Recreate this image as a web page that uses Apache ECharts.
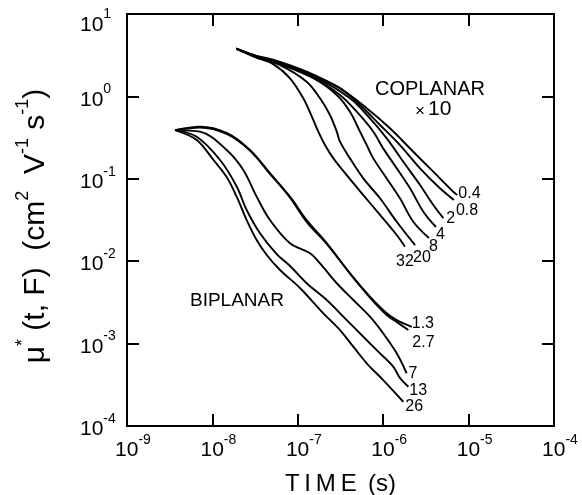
<!DOCTYPE html>
<html>
<head>
<meta charset="utf-8">
<script src="https://cdn.jsdelivr.net/npm/echarts@6/dist/echarts.min.js"></script>
<style>
  html, body { margin: 0; padding: 0; background: #fff; }
  #main { width: 582px; height: 495px; }
</style>
</head>
<body>
<div id="main"></div>
<script>
// coplanar curves (values already x10), [time s, mu*]
const cop04 = [[1.9e-8,3.8],[3.16e-8,3.15],[5.13e-8,2.8],[1.27e-7,2.0],[3.12e-7,1.25],[6.41e-7,0.718],[1.2e-6,0.41],[2.25e-6,0.213],[3.86e-6,0.122],[6.62e-6,0.0697],[7.38e-6,0.0635]];
const cop08 = [[1.9e-8,3.8],[3.16e-8,3.12],[6.19e-8,2.55],[1.51e-7,1.8],[3.12e-7,1.26],[5.35e-7,0.787],[9.18e-7,0.45],[1.57e-6,0.257],[2.7e-6,0.134],[4.62e-6,0.0767],[6.74e-6,0.0553]];
const cop2  = [[1.9e-8,3.8],[3.16e-8,3.1],[6.19e-8,2.52],[1.51e-7,1.77],[4.08e-7,0.948],[7.0e-7,0.542],[1.1e-6,0.31],[1.72e-6,0.161],[2.7e-6,0.0841],[3.86e-6,0.0481],[5.06e-6,0.0334]];
const cop4  = [[1.9e-8,3.8],[3.16e-8,3.1],[6.19e-8,2.5],[1.51e-7,1.72],[3.12e-7,1.04],[4.9e-7,0.652],[7.66e-7,0.373],[1.0e-6,0.234],[1.44e-6,0.134],[2.06e-6,0.0767],[2.95e-6,0.0399],[4.15e-6,0.026]];
const cop8  = [[1.9e-8,3.8],[3.16e-8,3.08],[6.19e-8,2.47],[1.52e-7,1.66],[2.86e-7,1.04],[4.08e-7,0.652],[5.35e-7,0.373],[6.41e-7,0.257],[7.66e-7,0.177],[1.1e-6,0.101],[1.57e-6,0.058],[2.25e-6,0.0301],[3.43e-6,0.0191]];
const cop20 = [[1.9e-8,3.8],[3.16e-8,3.05],[6.19e-8,2.4],[1.27e-7,1.51],[1.82e-7,0.948],[2.38e-7,0.594],[2.86e-7,0.373],[3.12e-7,0.282],[4.08e-7,0.177],[5.85e-7,0.101],[9.18e-7,0.058],[1.44e-6,0.0301],[2.36e-6,0.0157]];
const cop32 = [[1.9e-8,3.8],[3.16e-8,3.0],[5.2e-8,2.45],[8.1e-8,1.66],[1.16e-7,0.95],[1.46e-7,0.57],[1.74e-7,0.373],[2.08e-7,0.257],[2.61e-7,0.177],[3.74e-7,0.111],[5.85e-7,0.0635],[9.18e-7,0.0364],[1.44e-6,0.0208],[1.8e-6,0.015]];

// biplanar curves
const bip13 = [[3.65e-9,0.39],[7.2e-9,0.43],[1.47e-8,0.36],[2.75e-8,0.224],[4.72e-8,0.117],[8.11e-8,0.0607],[1.27e-7,0.0316],[2.18e-7,0.0166],[4.08e-7,0.00713],[7.0e-7,0.00371],[1.1e-6,0.00233],[1.44e-6,0.00193],[2.16e-6,0.0016]];
const bip27 = [[3.65e-9,0.39],[7.2e-9,0.42],[1.47e-8,0.35],[2.75e-8,0.22],[4.72e-8,0.115],[8.11e-8,0.059],[1.27e-7,0.03],[2.18e-7,0.0162],[4.08e-7,0.0071],[7.0e-7,0.00362],[1.1e-6,0.00222],[1.44e-6,0.00183],[1.97e-6,0.00146]];
const bip7  = [[3.65e-9,0.39],[7.16e-9,0.373],[1.47e-8,0.224],[2.3e-8,0.128],[3.3e-8,0.0607],[4.72e-8,0.0316],[8.11e-8,0.0165],[1.39e-7,0.0125],[1.82e-7,0.00942],[2.86e-7,0.0054],[4.47e-7,0.00338],[7.0e-7,0.00212],[1.0e-6,0.00133],[1.44e-6,0.000762],[1.88e-6,0.000436]];
const bip13b = [[3.65e-9,0.39],[6.55e-9,0.324],[1.23e-8,0.169],[1.93e-8,0.0802],[2.52e-8,0.0418],[3.61e-8,0.0218],[5.66e-8,0.0122],[8.11e-8,0.00875],[1.27e-7,0.0054],[2.18e-7,0.00338],[3.74e-7,0.00193],[5.85e-7,0.00121],[9.18e-7,0.000762],[1.31e-6,0.000525],[1.57e-6,0.000383],[1.97e-6,0.0003]];
const bip26 = [[3.65e-9,0.39],[6.55e-9,0.296],[1.03e-8,0.169],[1.47e-8,0.105],[1.93e-8,0.0602],[2.52e-8,0.0316],[3.3e-8,0.0181],[4.33e-8,0.0119],[6.19e-8,0.00782],[1.06e-7,0.00473],[1.99e-7,0.00233],[3.12e-7,0.00146],[4.47e-7,0.000917],[6.41e-7,0.000577],[1.0e-6,0.000361],[1.72e-6,0.000197]];

const curves = [
  ['0.4', cop04], ['0.8', cop08], ['2', cop2], ['4', cop4], ['8', cop8], ['20', cop20], ['32', cop32],
  ['1.3', bip13], ['2.7', bip27], ['7', bip7], ['13', bip13b], ['26', bip26]
];
// where each end label sits relative to the curve end (px)
const labelOffset = {
  '0.4': [-2, -1], '0.8': [-1, 11], '2': [0, 1], '4': [-3, 8], '8': [-3, 9], '20': [-5, 13], '32': [-12, 15],
  '1.3': [-3, -3], '2.7': [1, 13], '7': [-1, 0], '13': [-2, 4], '26': [-1, 5]
};

const FONT = 'Liberation Sans';
const myChart = echarts.init(document.getElementById('main'));

const tickRich = {
  p: { width: 12, fontSize: 20 },
  b: { fontSize: 21, fontFamily: FONT, color: '#000', padding: [7, 0, 0, 0], verticalAlign: 'bottom' },
  s: { fontSize: 14, fontFamily: FONT, color: '#000', verticalAlign: 'top' },
  // top label sits a little lower, inside the frame
  bt: { fontSize: 21, fontFamily: FONT, color: '#000', padding: [22, 0, 0, 0], verticalAlign: 'bottom' },
  st: { fontSize: 14, fontFamily: FONT, color: '#000', padding: [15, 0, 0, 0], verticalAlign: 'top' }
};
function powLabel(v) {
  const e = Math.round(Math.log10(v));
  return '{p|}{b|10}{s|' + e + '}';
}
function powLabelY(v) {
  const e = Math.round(Math.log10(v));
  if (e === 1) return '{bt|10}{st|' + e + '}';
  return '{b|10}{s|' + e + '}';
}

const lineSty = { color: '#000', width: 2 };
const tickSty = { show: true, inside: true, length: 12, lineStyle: { color: '#000', width: 2 } };

const myGrid = { left: 127, right: 28, top: 14, bottom: 69, containLabel: false, outerBoundsMode: 'none' };

const myXAxis = [
  {
    type: 'log', logBase: 10, min: 1e-9, max: 1e-4, splitNumber: 5,
    axisLine: { lineStyle: lineSty }, axisTick: tickSty, splitLine: { show: false },
    axisLabel: { formatter: powLabel, rich: tickRich, margin: 7, fontSize: 21, fontFamily: FONT, color: '#000' },
    name: 'T\u2009I\u2009M\u2009E\u2009 (s)', nameLocation: 'middle', nameGap: 46,
    nameTextStyle: { fontSize: 24, fontFamily: FONT, color: '#000' }
  },
  {
    type: 'log', logBase: 10, min: 1e-9, max: 1e-4, splitNumber: 5, position: 'top',
    axisLine: { lineStyle: lineSty }, axisTick: tickSty, splitLine: { show: false },
    axisLabel: { show: false }
  }
];
const myYAxis = [
  {
    type: 'log', logBase: 10, min: 1e-4, max: 10, splitNumber: 5,
    axisLine: { lineStyle: lineSty }, axisTick: tickSty, splitLine: { show: false },
    axisLabel: { formatter: powLabelY, rich: tickRich, align: 'left', margin: 47, fontSize: 21, fontFamily: FONT, color: '#000' },
    name: '{a|\u03bc}{u|*}{a| (t, F)  (cm}{u|2}{a|  V}{u|-1}{a| s}{u|-1}{a|)}{g|}',
    nameLocation: 'middle', nameGap: 76, nameRotate: 90,
    nameTextStyle: {
      rich: {
        a: { fontSize: 30, fontFamily: FONT, color: '#000', padding: [7, 0, 0, 0], verticalAlign: 'bottom' },
        u: { fontSize: 18, fontFamily: FONT, color: '#000', verticalAlign: 'top' },
        g: { width: 12 }
      }
    }
  },
  {
    type: 'log', logBase: 10, min: 1e-4, max: 10, splitNumber: 5, position: 'right',
    axisLine: { lineStyle: lineSty }, axisTick: tickSty, splitLine: { show: false },
    axisLabel: { show: false }
  }
];

const mySeries = curves.map(function (c) {
  return {
    name: c[0], type: 'line', data: c[1], smooth: 0.35, symbol: 'none',
    lineStyle: { color: '#000', width: 1.9 },
    endLabel: {
      show: true, formatter: c[0], offset: labelOffset[c[0]],
      fontSize: 16, fontFamily: FONT, color: '#000', distance: 3
    }
  };
});

myChart.setOption({
  animation: false,
  grid: myGrid,
  xAxis: myXAxis,
  yAxis: myYAxis,
  series: mySeries,
  graphic: [
    { type: 'text', left: 375, top: 79, style: { text: 'COPLANAR', fontSize: 20, fontFamily: FONT, fill: '#000' } },
    { type: 'text', left: 415, top: 103, style: { text: '\u00d7', fontSize: 17, fontFamily: FONT, fill: '#000' } },
    { type: 'text', left: 428, top: 99, style: { text: '10', fontSize: 21, fontFamily: FONT, fill: '#000' } },
    { type: 'text', left: 190, top: 291, style: { text: 'BIPLANAR', fontSize: 19, fontFamily: FONT, fill: '#000' } }
  ]
});
</script>
</body>
</html>
